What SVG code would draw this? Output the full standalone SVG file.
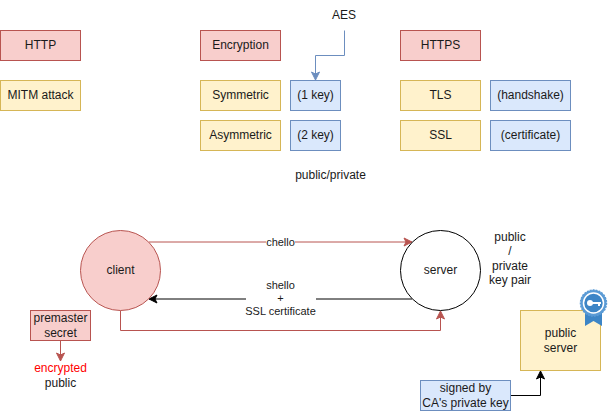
<svg xmlns="http://www.w3.org/2000/svg" width="608" height="412" viewBox="0 0 608 412">
<style>
text{font-family:"Liberation Sans",Arial,sans-serif;font-size:12px;fill:#1a1a1a;text-anchor:middle}
.r{fill:#f8cecc;stroke:#b85450}
.y{fill:#fff2cc;stroke:#d6b656}
.b{fill:#dae8fc;stroke:#6c8ebf}
.c{fill:none}
.lbl{font-size:11px}
</style>
<defs>
<marker id="ar" markerUnits="userSpaceOnUse" markerWidth="10" markerHeight="10" refX="9" refY="5" orient="auto"><path d="M1 1L9 5L1 9L3 5Z" fill="#b85450" stroke="#b85450"/></marker>
<marker id="ab" markerUnits="userSpaceOnUse" markerWidth="10" markerHeight="10" refX="9" refY="5" orient="auto"><path d="M1 1L9 5L1 9L3 5Z" fill="#000" stroke="#000"/></marker>
<marker id="au" markerUnits="userSpaceOnUse" markerWidth="10" markerHeight="10" refX="9" refY="5" orient="auto"><path d="M1 1L9 5L1 9L3 5Z" fill="#6c8ebf" stroke="#6c8ebf"/></marker>
</defs>
<g id="connectors" fill="none">
<path d="M344.500 30.500V55.500H315.500V80" stroke="#6c8ebf" marker-end="url(#au)"/>
<path d="M149 242H412" stroke="#b85450" marker-end="url(#ar)"/>
<path d="M412 299H149" stroke="#000" marker-end="url(#ab)"/>
<path d="M120.500 310.500V330.500H440.500V311" stroke="#b85450" marker-end="url(#ar)"/>
<path d="M60.500 340.500V361" stroke="#b85450" marker-end="url(#ar)"/>
<path d="M510.500 395.500H540.500V371" stroke="#000" marker-end="url(#ab)"/>
<rect x="266" y="236" width="29" height="12" fill="#fff"/>
<rect x="246" y="278" width="70" height="40" fill="#fff"/>
<text class="lbl" x="280.500" y="246">chello</text>
<text class="lbl" x="280.500" y="289">shello</text>
<text class="lbl" x="280.500" y="302">+</text>
<text class="lbl" x="280.500" y="315">SSL certificate</text>
</g>
<g id="http"><rect class="r" x="0.500" y="30.500" width="80" height="30"/><text x="40.500" y="49">HTTP</text></g>
<g id="mitm"><rect class="y" x="0.500" y="80.500" width="80" height="30"/><text x="40.500" y="99">MITM attack</text></g>
<g id="encryption"><rect class="r" x="200.500" y="30.500" width="80" height="30"/><text x="240.500" y="49">Encryption</text></g>
<g id="symmetric"><rect class="y" x="200.500" y="80.500" width="80" height="30"/><text x="240.500" y="99">Symmetric</text></g>
<g id="asymmetric"><rect class="y" x="200.500" y="120.500" width="80" height="30"/><text x="240.500" y="139">Asymmetric</text></g>
<g id="key1"><rect class="b" x="290.500" y="80.500" width="50" height="30"/><text x="315.500" y="99">(1 key)</text></g>
<g id="key2"><rect class="b" x="290.500" y="120.500" width="50" height="30"/><text x="315.500" y="139">(2 key)</text></g>
<g id="aes"><text x="344" y="19">AES</text></g>
<g id="public-private"><text x="330.500" y="179">public/private</text></g>
<g id="https"><rect class="r" x="400.500" y="30.500" width="80" height="30"/><text x="440.500" y="49">HTTPS</text></g>
<g id="tls"><rect class="y" x="400.500" y="80.500" width="80" height="30"/><text x="440.500" y="99">TLS</text></g>
<g id="ssl"><rect class="y" x="400.500" y="120.500" width="80" height="30"/><text x="440.500" y="139">SSL</text></g>
<g id="handshake"><rect class="b" x="490.500" y="80.500" width="80" height="30"/><text x="530.500" y="99">(handshake)</text></g>
<g id="certificate"><rect class="b" x="490.500" y="120.500" width="80" height="30"/><text x="530.500" y="139">(certificate)</text></g>
<g id="client"><circle class="r" cx="120.500" cy="270.500" r="40"/><text x="120.500" y="274">client</text></g>
<g id="server"><circle cx="440.500" cy="270.500" r="40" fill="#fff" stroke="#000"/><text x="440.500" y="274">server</text></g>
<g id="key-pair"><text x="510" y="241">public</text><text x="510" y="255">/</text><text x="510" y="270">private</text><text x="510" y="284">key pair</text></g>
<g id="premaster"><rect class="r" x="30.500" y="310.500" width="60" height="30"/><text x="60.500" y="322">premaster</text><text x="60.500" y="337">secret</text></g>
<g id="encrypted"><text x="60.500" y="372" style="fill:#ff0000">encrypted</text><text x="60.500" y="387">public</text></g>
<g id="public-server"><rect class="y" x="520.500" y="310.500" width="80" height="60"/><text x="560.500" y="337">public</text><text x="560.500" y="352">server</text>
<path d="M585 312V326L593.500 321L602 326V312Z" fill="#3d85c6"/>
<circle cx="593.500" cy="303" r="13" fill="#5b9bd5" stroke="#5b9bd5" stroke-width="1.500" stroke-dasharray="2 1"/>
<circle cx="593.500" cy="303" r="10" fill="#3d85c6" stroke="#fff" stroke-width="1.500"/>
<circle cx="590" cy="303" r="3" fill="#fff"/>
<path d="M592 302H601V304H600V306H598V304H592Z" fill="#fff"/></g>
<g id="signed"><rect class="b" x="420.500" y="380.500" width="90" height="30"/><text x="465.500" y="392">signed by</text><text x="465.500" y="407">CA's private key</text></g>
</svg>
